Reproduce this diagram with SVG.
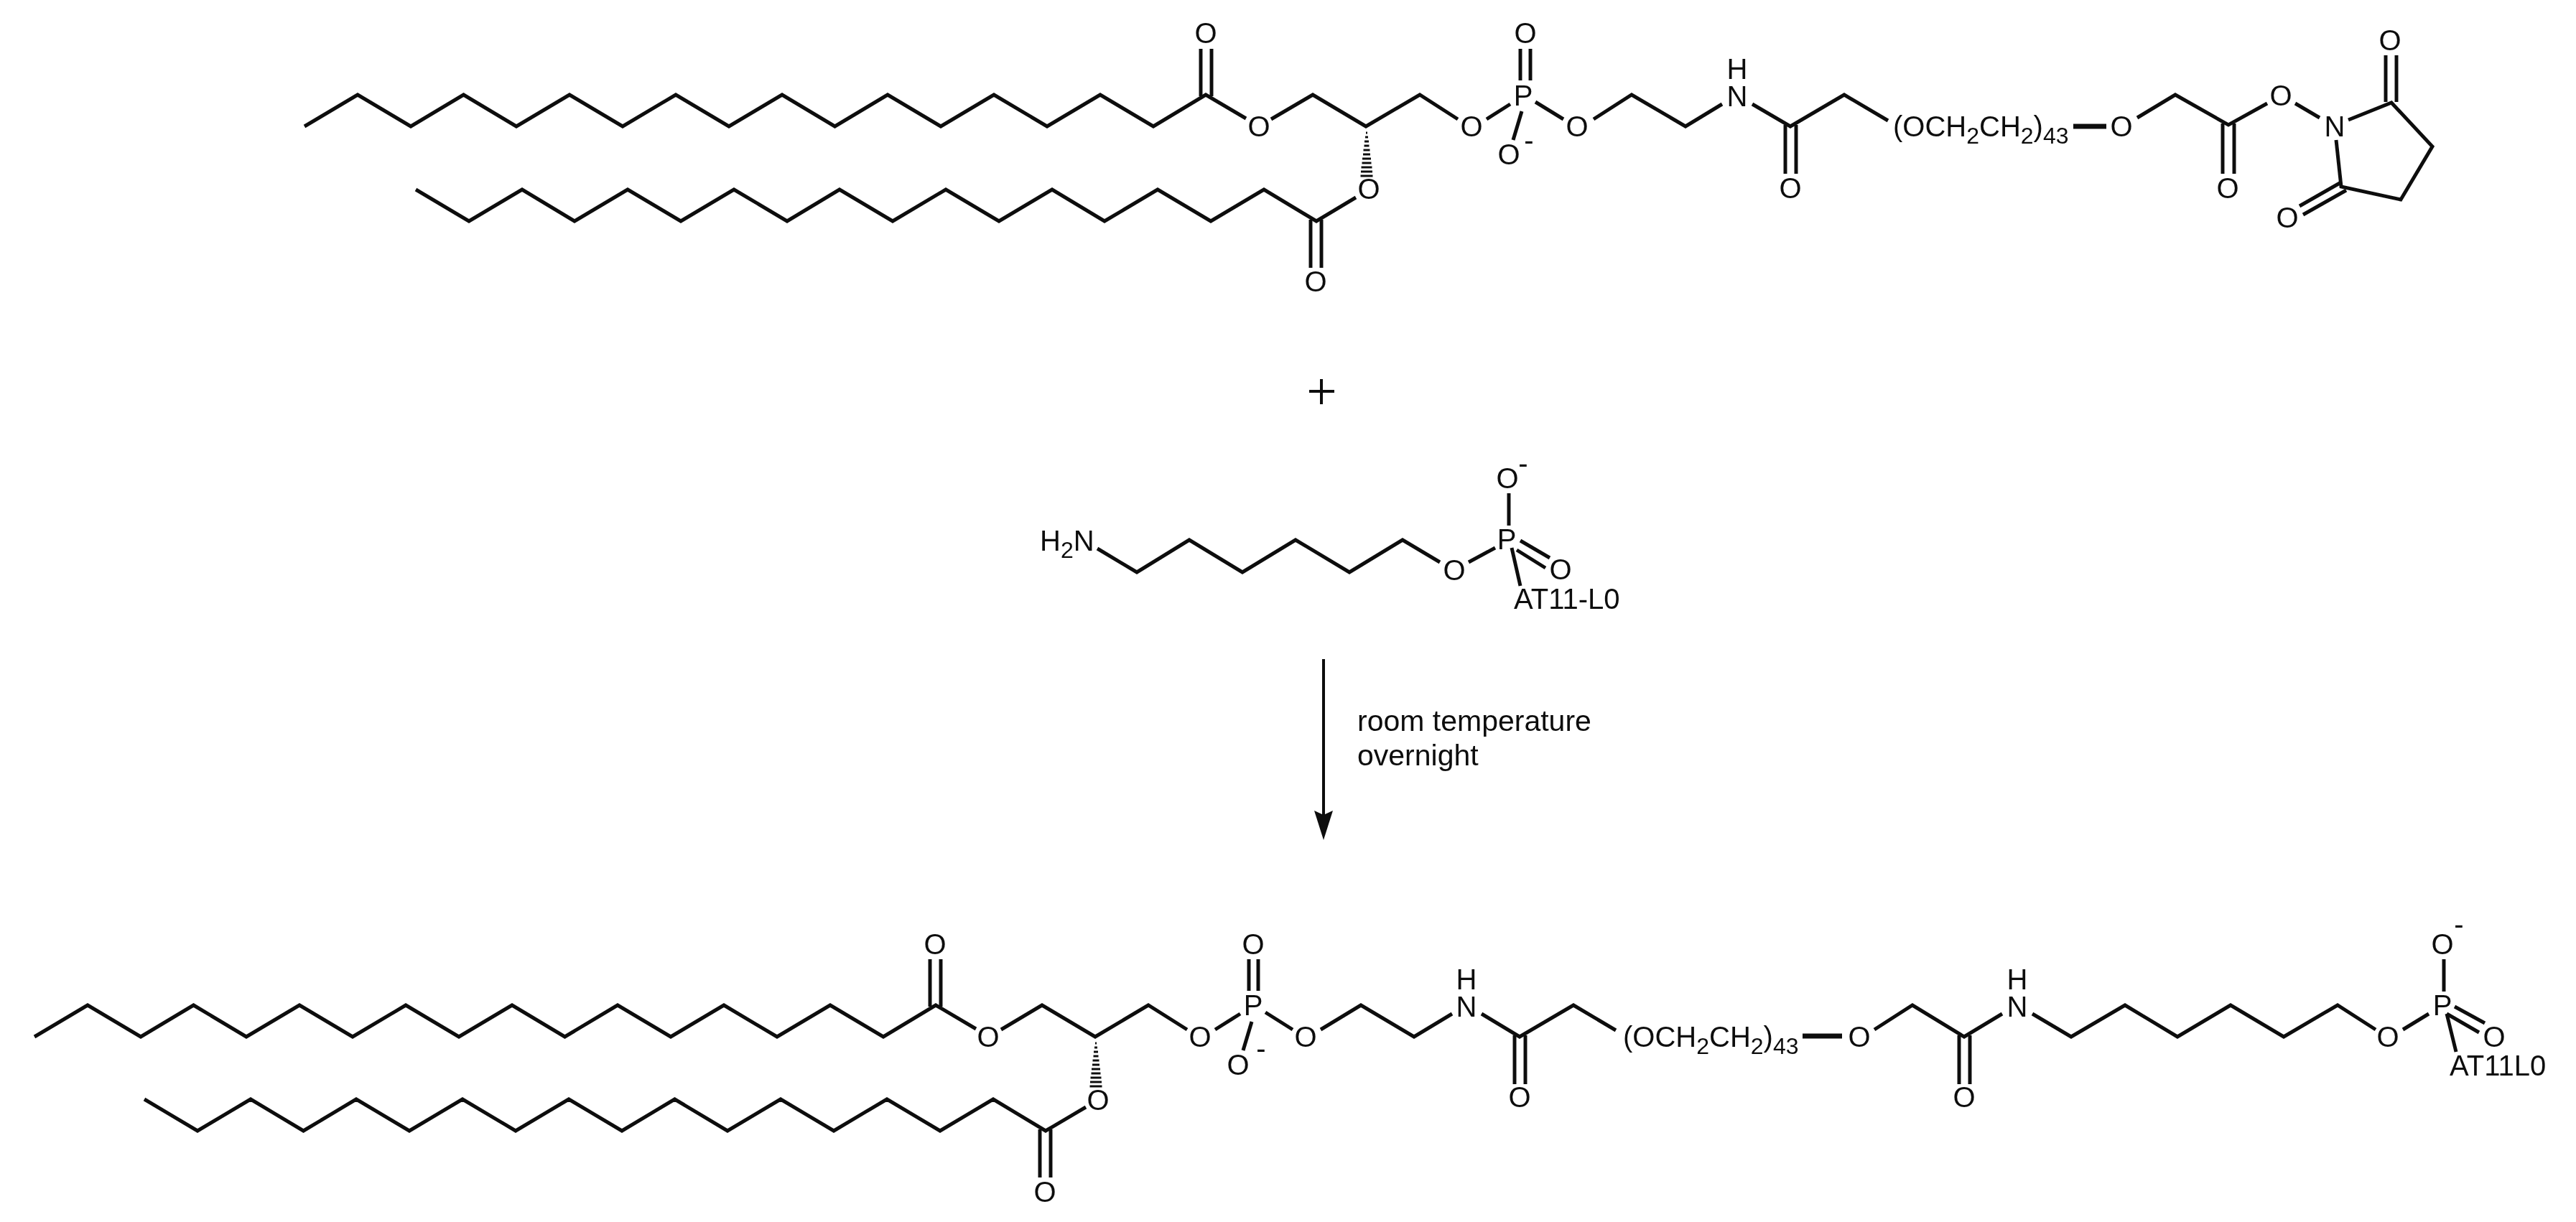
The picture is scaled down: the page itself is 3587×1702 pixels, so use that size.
<svg xmlns="http://www.w3.org/2000/svg" width="3587" height="1702" viewBox="0 0 3587 1702">
<style>
text{font-family:"Liberation Sans",Arial,sans-serif;font-size:40px;fill:#111}
.a{text-anchor:middle}
.s{font-size:32px}
.b{fill:none;stroke:#111;stroke-width:5;stroke-linejoin:miter;stroke-linecap:butt}
.t{fill:none;stroke:#111;stroke-width:4}
.h{fill:none;stroke:#111;stroke-width:3}
.k{fill:none;stroke:#111;stroke-width:7}
</style>
<defs>
<filter id="soft" x="0" y="0" width="100%" height="100%" filterUnits="userSpaceOnUse"><feGaussianBlur stdDeviation="0.7"/></filter>
<g id="hash">
<path class="h" d="M-1 0h2M-2 6h4M-3 12h6M-3.500 18h7M-4.500 24h9M-5 30h10M-6 36h12M-6.500 42h13M-7.500 48h15M-8 54h16M-8.500 60h17"/>
</g>
</defs>
<rect width="3587" height="1702" fill="#fff"/>
<g filter="url(#soft)">
<g id="connectors">
<g id="reactant-1-bonds">
<path class="b" d="M424 176L498 132L572 176L645.500 132L719 176L793 132L867 176L941 132L1015 176L1089 132L1162.500 176L1236 132L1310 176L1384 132L1458 176L1532 132L1606 176L1679 132L1735 165"/>
<path class="b" d="M1672 134V68M1687 134V68"/>
<path class="b" d="M1770 166L1828 132L1902 176L1977 132L2030 166"/>
<use href="#hash" x="1903" y="185"/>
<path class="b" d="M579 264L653 308L727 264L800 308L874 264L948 308L1022 264L1096 308L1169 264L1243 308L1317 264L1391 308L1465 264L1538 308L1612 264L1686 308L1760 264L1833 308L1888 275"/>
<path class="b" d="M1825 306V373M1840 306V373"/>
<path class="b" d="M2070 166L2103 145"/>
<path class="b" d="M2117 112V68M2131 112V68"/>
<path class="b" d="M2119 155L2107 195"/>
<path class="b" d="M2138 142L2177 166"/>
<path class="b" d="M2219 166L2272 132L2347 176L2398 145"/>
<path class="b" d="M2440 145L2493 176L2568 132L2629 168"/>
<path class="b" d="M2486 174V242M2501 174V242"/>
<path class="k" d="M2887 176H2933"/>
<path class="b" d="M2976 164L3029 132L3103 174L3157 144"/>
<path class="b" d="M3095 172V242M3111 172V242"/>
<path class="b" d="M3196 144L3230 164"/>
<path class="b" d="M3270 167L3330 143L3387 204L3343 278L3260 260L3253 195"/>
<path class="b" d="M3322 142V77M3337 142V77"/>
<path class="b" d="M3202 287L3258 255M3207 299L3267 265"/>
</g>
<g id="reactant-2-bonds">
<path class="b" d="M1528 764L1583 797L1656 752L1730 797L1804 752L1879 797L1953 752L2005 783"/>
<path class="b" d="M2045 783L2082 763"/>
<path class="b" d="M2101 687V732M2105 763L2117 816"/>
<path class="b" d="M2117 753L2158 777M2112 766L2152 791"/>
</g>
<g id="product-bonds">
<path class="b" d="M48 1444L122 1400L196 1444L269.500 1400L343 1444L417 1400L491 1444L565 1400L639 1444L713 1400L786.500 1444L860 1400L934 1444L1008 1400L1082 1444L1156 1400L1230 1444L1303 1400L1359 1433"/>
<path class="b" d="M1295 1402V1336M1310 1402V1336"/>
<path class="b" d="M1394 1434L1451 1400L1525 1444L1599 1400L1653 1434"/>
<use href="#hash" x="1526" y="1453"/>
<path class="b" d="M201 1531L275 1575L349 1531L422.500 1575L496 1531L570 1575L644 1531L718 1575L792 1531L866 1575L939.500 1531L1013 1575L1087 1531L1161 1575L1235 1531L1309 1575L1383 1531L1456 1575L1512 1542"/>
<path class="b" d="M1448 1573V1640M1463 1573V1640"/>
<path class="b" d="M1692 1434L1727 1412"/>
<path class="b" d="M1739 1380V1336M1752 1380V1336"/>
<path class="b" d="M1743 1423L1731 1463"/>
<path class="b" d="M1762 1410L1800 1434"/>
<path class="b" d="M1839 1434L1895 1400L1969 1444L2022 1412"/>
<path class="b" d="M2063 1412L2116 1444L2191 1400L2250 1435"/>
<path class="b" d="M2109 1442V1510M2124 1442V1510"/>
<path class="k" d="M2510 1443H2565"/>
<path class="b" d="M2610 1434L2663 1400L2735 1444L2788 1412"/>
<path class="b" d="M2728 1442V1510M2743 1442V1510"/>
<path class="b" d="M2830 1412L2884 1444L2959 1400L3032 1444L3106 1400L3180 1444L3255 1400L3308 1434"/>
<path class="b" d="M3346 1434L3382 1412"/>
<path class="b" d="M3403 1336V1381M3407 1412L3420 1465"/>
<path class="b" d="M3418 1402L3460 1425M3407 1412L3452 1438"/>
</g>
<g id="reaction-arrow">
<path class="t" d="M1843 918V1135"/>
<path d="M1843 1170L1830 1129L1843 1135L1856 1129Z" fill="#111"/>
</g>
</g>

<g id="reactant-1">
<text class="a" x="1679" y="60">O</text>
<text class="a" x="1753" y="190">O</text>
<text class="a" x="1906" y="277">O</text>
<text class="a" x="1832" y="406">O</text>
<text class="a" x="2049" y="190">O</text>
<text class="a" x="2121" y="147">P</text>
<text class="a" x="2124" y="60">O</text>
<text class="a" x="2101" y="229">O</text>
<text class="a" x="2129" y="209">-</text>
<text class="a" x="2196" y="190">O</text>
<text class="a" x="2419" y="148">N</text>
<text class="a" x="2419" y="110">H</text>
<text class="a" x="2493" y="276">O</text>
<text x="2636" y="190">(OCH<tspan class="s" dy="10">2</tspan><tspan dy="-10">CH</tspan><tspan class="s" dy="10">2</tspan><tspan dy="-10">)</tspan><tspan class="s" dy="10">43</tspan></text>
<text class="a" x="2954" y="190">O</text>
<text class="a" x="3102" y="276">O</text>
<text class="a" x="3176" y="147">O</text>
<text class="a" x="3251" y="190">N</text>
<text class="a" x="3328" y="70">O</text>
<text class="a" x="3185" y="317">O</text>
</g>

<g id="plus"><path class="t" d="M1823 545H1858M1840 528V563"/></g>

<g id="reactant-2">
<text x="1448" y="767">H<tspan class="s" dy="10">2</tspan><tspan dy="-10">N</tspan></text>
<text class="a" x="2025" y="808">O</text>
<text class="a" x="2098" y="765">P</text>
<text class="a" x="2099" y="680">O</text>
<text class="a" x="2121" y="659">-</text>
<text class="a" x="2173" y="807">O</text>
<text x="2108" y="848">AT11-L0</text>
</g>

<g id="conditions">
<text x="1890" y="1018" style="font-size:41px">room temperature</text>
<text x="1890" y="1066" style="font-size:41px">overnight</text>
</g>

<g id="product">
<text class="a" x="1302" y="1329">O</text>
<text class="a" x="1376" y="1458">O</text>
<text class="a" x="1529" y="1546">O</text>
<text class="a" x="1455" y="1674">O</text>
<text class="a" x="1671" y="1458">O</text>
<text class="a" x="1745" y="1414">P</text>
<text class="a" x="1745" y="1329">O</text>
<text class="a" x="1724" y="1497">O</text>
<text class="a" x="1756" y="1474">-</text>
<text class="a" x="1818" y="1458">O</text>
<text class="a" x="2042" y="1416">N</text>
<text class="a" x="2042" y="1378">H</text>
<text class="a" x="2116" y="1542">O</text>
<text x="2260" y="1458">(OCH<tspan class="s" dy="10">2</tspan><tspan dy="-10">CH</tspan><tspan class="s" dy="10">2</tspan><tspan dy="-10">)</tspan><tspan class="s" dy="10">43</tspan></text>
<text class="a" x="2589" y="1458">O</text>
<text class="a" x="2735" y="1542">O</text>
<text class="a" x="2809" y="1416">N</text>
<text class="a" x="2809" y="1378">H</text>
<text class="a" x="3325" y="1458">O</text>
<text class="a" x="3401" y="1414">P</text>
<text class="a" x="3401" y="1329">O</text>
<text class="a" x="3424" y="1301">-</text>
<text class="a" x="3473" y="1458">O</text>
<text x="3411" y="1498">AT11L0</text>
</g>
</g>
</svg>
